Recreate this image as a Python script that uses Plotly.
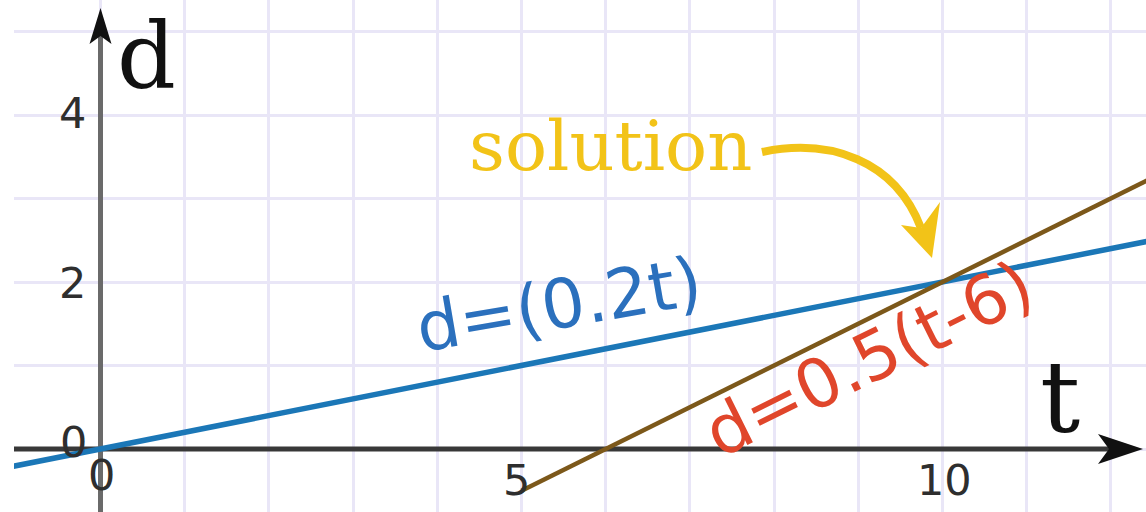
import numpy as np
import plotly.graph_objects as go

# Two straight-line motions d(t) and the point where they meet
blue_t = [-1.2, 12.5]
blue_d = [-0.24, 2.5]        # d = 0.2 t
brown_t = [5.0, 12.5]
brown_d = [-0.5, 3.25]       # d = 0.5 (t - 6)
solution_t = 10.0
solution_d = 2.0

x_tick_vals = [0, 5, 10]
x_tick_text = ["0", "5", "10"]
y_tick_vals = [0, 2, 4]
y_tick_text = ["0", "2", "4"]
grid_t = list(range(0, 13))
grid_d = list(range(0, 6))

# Page geometry (pixels)
W, H = 1146, 512
LEFT = 14
PX_T = 84.2        # pixels per unit of t
PX_D = 83.5        # pixels per unit of d
ORIGIN_X = 100.5   # page x of t = 0
ORIGIN_Y = 449.0   # page y of d = 0

x_range = [(LEFT - ORIGIN_X) / PX_T, (W - ORIGIN_X) / PX_T]
y_range = [-(H - ORIGIN_Y) / PX_D, ORIGIN_Y / PX_D]

X_TIP = (1143 - ORIGIN_X) / PX_T   # tip of the t-axis arrow
Y_TIP = (ORIGIN_Y - 8) / PX_D      # tip of the d-axis arrow

GRID = "#e9e6f7"
BLUE_LINE = "#1b77b7"
BLUE_TEXT = "#2b70bd"
BROWN = "#7c581a"
RED = "#e0462b"
GOLD = "#f2c318"
AXIS_X = "#383838"
AXIS_Y = "#6a6a6a"
TICK_TEXT = "#2e2e2e"
SERIF = "DejaVu Serif"
SANS = "DejaVu Sans"

fig = go.Figure()
fig.add_trace(go.Scatter(x=blue_t, y=blue_d, mode="lines",
                         line=dict(color=BLUE_LINE, width=5.5),
                         hoverinfo="skip", showlegend=False))
fig.add_trace(go.Scatter(x=brown_t, y=brown_d, mode="lines",
                         line=dict(color=BROWN, width=4.5),
                         hoverinfo="skip", showlegend=False))

shapes = [
    # keep the squared paper below the top margin
    dict(type="rect", xref="paper", yref="paper", x0=0, x1=1,
         y0=1 - 29.5 / H, y1=1.02, fillcolor="white", line=dict(width=0),
         layer="between"),
    # t axis
    dict(type="line", xref="x", yref="y", x0=x_range[0], y0=0,
         x1=X_TIP - 34 / PX_T, y1=0, line=dict(color=AXIS_X, width=5),
         layer="between"),
    dict(type="path", xref="x", yref="y", xsizemode="pixel", ysizemode="pixel",
         xanchor=X_TIP, yanchor=0, path="M0,0 L-45,15 L-34,0 L-45,-15 Z",
         fillcolor="#111111", line=dict(width=0), layer="between"),
    # d axis
    dict(type="line", xref="x", yref="y", x0=0, y0=y_range[0],
         x1=0, y1=Y_TIP - 28 / PX_D, line=dict(color=AXIS_Y, width=5),
         layer="between"),
    dict(type="path", xref="x", yref="y", xsizemode="pixel", ysizemode="pixel",
         xanchor=0, yanchor=Y_TIP, path="M0,0 L-11,-36 L0,-28 L11,-36 Z",
         fillcolor="#111111", line=dict(width=0), layer="between"),
    # curved pointer from the word "solution" to the crossing point
    dict(type="path", xref="x", yref="y", xsizemode="pixel", ysizemode="pixel",
         xanchor=solution_t, yanchor=solution_d,
         path="M-180.5,130 C-112.5,144 -47.5,122 -21.5,54",
         line=dict(color=GOLD, width=8), layer="above"),
    dict(type="path", xref="x", yref="y", xsizemode="pixel", ysizemode="pixel",
         xanchor=solution_t, yanchor=solution_d,
         path="M-10.5,24 L-41.5,57 L-21.5,54 L-2.5,80 Z",
         fillcolor=GOLD, line=dict(width=0), layer="above"),
]

annotations = []
x_label_shift = {0: (0.5, -26), 5: (-5.5, -31), 10: (1.5, -31)}
for v, txt in zip(x_tick_vals, x_tick_text):
    dx, dy = x_label_shift[v]
    annotations.append(dict(x=v, y=0, xref="x", yref="y", text=txt, showarrow=False,
                            xshift=dx, yshift=dy, xanchor="center", yanchor="middle",
                            font=dict(family=SANS, size=43, color=TICK_TEXT)))
y_label_shift = {0: (-27.5, 7), 2: (-28.5, -1), 4: (-28.5, 2)}
for v, txt in zip(y_tick_vals, y_tick_text):
    dx, dy = y_label_shift[v]
    annotations.append(dict(x=0, y=v, xref="x", yref="y", text=txt, showarrow=False,
                            xshift=dx, yshift=dy, xanchor="center", yanchor="middle",
                            font=dict(family=SANS, size=43, color=TICK_TEXT)))

# axis names
annotations.append(dict(x=0, y=Y_TIP, xref="x", yref="y", text="d", showarrow=False,
                        xshift=45.5, yshift=-48, xanchor="center", yanchor="middle",
                        font=dict(family=SERIF, size=92, color="#111111")))
annotations.append(dict(x=X_TIP, y=0, xref="x", yref="y", text="t", showarrow=False,
                        xshift=-83, yshift=52, xanchor="center", yanchor="middle",
                        font=dict(family=SERIF, size=100, color="#111111")))

# "solution" caption
annotations.append(dict(x=solution_t, y=solution_d, xref="x", yref="y", text="solution",
                        showarrow=False, xshift=-189, yshift=136,
                        xanchor="right", yanchor="middle",
                        font=dict(family=SERIF, size=70, color=GOLD)))

# equation labels laid along their lines
blue_label_t = 5.45
blue_angle = np.degrees(np.arctan(0.2 * PX_D / PX_T))
annotations.append(dict(x=blue_label_t, y=float(np.interp(blue_label_t, blue_t, blue_d)),
                        xref="x", yref="y", text="d=(0.2t)", showarrow=False,
                        yshift=53, textangle=-blue_angle + 1.5,
                        xanchor="center", yanchor="middle",
                        font=dict(family=SANS, size=68, color=BLUE_TEXT)))
red_label_t = 9.13
red_angle = np.degrees(np.arctan(0.5 * PX_D / PX_T))
annotations.append(dict(x=red_label_t, y=float(np.interp(red_label_t, brown_t, brown_d)),
                        xref="x", yref="y", text="d=0.5(t-6)", showarrow=False,
                        yshift=-40.5, textangle=-red_angle,
                        xanchor="center", yanchor="middle",
                        font=dict(family=SANS, size=68, color=RED)))

fig.update_layout(
    width=W, height=H,
    margin=dict(l=LEFT, r=0, t=0, b=0, pad=0),
    paper_bgcolor="white", plot_bgcolor="white",
    showlegend=False,
    shapes=shapes, annotations=annotations,
    xaxis=dict(range=x_range, tickmode="array", tickvals=grid_t, showticklabels=False,
               ticks="", showgrid=True, gridcolor=GRID, gridwidth=3,
               zeroline=False, showline=False, fixedrange=True),
    yaxis=dict(range=y_range, tickmode="array", tickvals=grid_d, showticklabels=False,
               ticks="", showgrid=True, gridcolor=GRID, gridwidth=3,
               zeroline=False, showline=False, fixedrange=True),
)

fig.write_html("out.html", config={"displayModeBar": False})
